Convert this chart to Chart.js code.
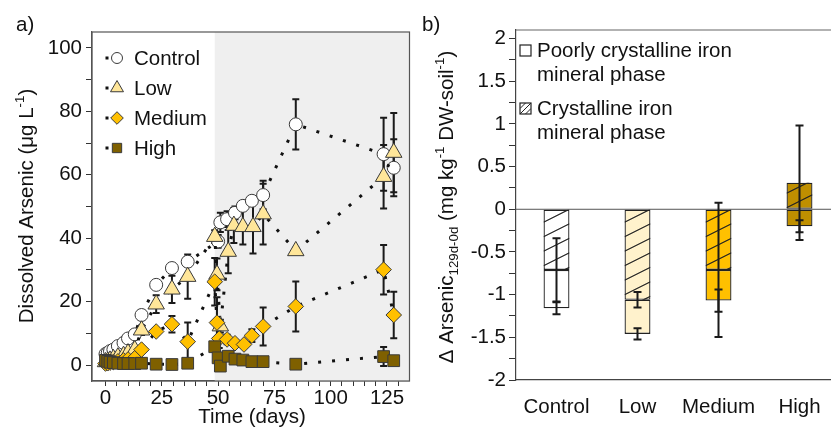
<!DOCTYPE html>
<html>
<head>
<meta charset="utf-8">
<script src="https://cdn.jsdelivr.net/npm/chart.js@4.4.1/dist/chart.umd.min.js"></script>
<style>
  html, body { margin: 0; padding: 0; background: #fff; overflow: hidden; }
  #wrap { position: relative; width: 831px; height: 433px; overflow: hidden; }
  #chartA { position: absolute; left: 0; top: 0; }
  #chartB { position: absolute; left: 420px; top: 0; }
</style>
</head>
<body>
<div id="wrap">
  <canvas id="chartA" width="420" height="433"></canvas>
  <canvas id="chartB" width="420" height="433"></canvas>
</div>
<script>
// ---- panel a: dissolved arsenic over time ----
const controlDays = [0, 1, 2, 3.5, 5.5, 8, 10, 13, 16, 22.5, 29.5, 36.5, 50, 51, 54, 57.5, 61, 65, 70, 84.5, 123.5, 128];
const controlValues = [3.5, 3.9, 4.4, 4.9, 6, 7, 8.4, 9.7, 15.8, 25.3, 30.6, 32.6, 39, 45, 46, 48, 50.2, 51.8, 53.6, 75.9, 66.5, 62.2];
const controlErrors = [0.5, 0.5, 0.5, 0.6, 0.6, 0.7, 0.8, 0.8, 1, 1.2, 1.5, 1.5, 2, 3, 2.5, 2, 1.5, 1.5, 4.5, 7.9, 11.5, 9];

const lowDays = [0, 1, 2, 3.5, 5.5, 8, 10, 13, 16, 22.5, 29.5, 36.5, 48.5, 49.5, 51, 54.5, 57, 61, 65.5, 70, 84.5, 123.5, 128];
const lowValues = [1, 1.2, 1.5, 2, 2.5, 3, 3.8, 4.8, 11, 19.2, 23.9, 27.9, 40.5, 28.6, 12.3, 35.8, 44, 43.6, 43.6, 47.6, 36, 59.4, 67];
const lowErrors = [0.3, 0.3, 0.3, 0.4, 0.4, 0.5, 0.5, 0.6, 1.5, 2.8, 4.3, 7, 2, 5, 2, 6.8, 5.5, 5.6, 8.4, 9.6, 1, 10, 12.5];

const mediumDays = [0, 1, 2, 3.5, 5.5, 8, 10, 13, 16, 22.5, 29.5, 36.5, 48.5, 49.5, 50.5, 54, 57.5, 61.5, 65, 70, 84.5, 123.5, 128];
const mediumValues = [0.5, 0.6, 0.8, 1, 1.2, 1.5, 1.8, 2.2, 4.9, 10.6, 12.9, 7.4, 26.3, 13.4, 8.4, 8.1, 6.9, 6.5, 9.3, 12.2, 18.5, 30.1, 15.8];
const mediumErrors = [0.2, 0.2, 0.2, 0.3, 0.3, 0.3, 0.3, 0.4, 1, 1, 2.6, 6, 7.5, 8, 3, 1.5, 1, 1, 2, 6, 7.9, 7.8, 7.3];

const highDays = [0, 1, 2, 3.5, 5.5, 8, 10, 13, 16, 22.5, 29.5, 36.5, 48.5, 50, 51, 54.5, 57.5, 61, 65, 70, 84.5, 123.5, 128];
const highValues = [1.5, 1.2, 0.9, 0.8, 0.6, 0.5, 0.5, 0.5, 0.6, 0.3, 0.2, 0.6, 5.8, 2.3, -0.3, 2.8, 1.9, 1.6, 1.1, 1.1, 0.3, 2.7, 1.4];
const highErrors = [0.3, 0.3, 0.3, 0.3, 0.3, 0.3, 0.3, 0.3, 0.3, 0.3, 0.3, 0.3, 1.5, 1, 0.5, 0.5, 0.5, 0.4, 0.4, 0.4, 0.4, 3, 0.4];

const shadeStartDay = 48.5;
const xTicksA = [0, 5, 10, 15, 20, 25, 30, 35, 40, 45, 50, 55, 60, 65, 70, 75, 80, 85, 90, 95, 100, 105, 110, 115, 120, 125, 130];
const yTicksA = [0, 10, 20, 30, 40, 50, 60, 70, 80, 90, 100];

// ---- panel b: change in arsenic per iron mineral phase ----
const phaseCategories = ['Control', 'Low', 'Medium', 'High'];
const crystallineValues = [-0.71, -1.06, -0.71, 0.31];
const crystallineErrors = [0.37, 0.09, 0.785, 0.67];
const poorlyValues = [-0.45, -0.40, -0.36, -0.20];
const poorlyErrors = [0.07, 0.065, 0.13, 0.07];
const yTicksB = [-2, -1.75, -1.5, -1.25, -1, -0.75, -0.5, -0.25, 0, 0.25, 0.5, 0.75, 1, 1.25, 1.5, 1.75, 2];

const FONT = '"Liberation Sans", Arial, Helvetica, sans-serif';
const FS = 20.5;
const INK = '#111';
Chart.defaults.font.family = FONT;
Chart.defaults.font.size = FS;
Chart.defaults.color = INK;

const seriesA = [
  { label: 'Control', days: controlDays, values: controlValues, errors: controlErrors, style: 'circle', radius: 6.5, legendRadius: 5.5, fill: '#FFFFFF' },
  { label: 'Low', days: lowDays, values: lowValues, errors: lowErrors, style: 'triangle', radius: 9.5, legendRadius: 7.5, fill: '#FFE699' },
  { label: 'Medium', days: mediumDays, values: mediumValues, errors: mediumErrors, style: 'rectRot', radius: 7.8, legendRadius: 6.3, fill: '#FFC000' },
  { label: 'High', days: highDays, values: highValues, errors: highErrors, style: 'rect', radius: 8.3, legendRadius: 6.6, fill: '#7F6000' }
];
const barColors = ['#FFFFFF', '#FFF2CC', '#FFC000', '#BF8F00'];

// rotated / plain text with sub- and superscript runs
function drawRich(ctx, runs, cx, cy, rotate) {
  ctx.save();
  ctx.translate(cx, cy);
  if (rotate) ctx.rotate(-Math.PI / 2);
  ctx.fillStyle = INK;
  ctx.textBaseline = 'alphabetic';
  ctx.textAlign = 'left';
  const fontFor = k => `${k ? FS * 0.65 : FS}px ${FONT}`;
  let total = 0;
  runs.forEach(([t, k]) => { ctx.font = fontFor(k); total += ctx.measureText(t).width; });
  let x = -total / 2;
  runs.forEach(([t, k]) => {
    ctx.font = fontFor(k);
    const dy = k === 'sup' ? -FS * 0.42 : k === 'sub' ? FS * 0.22 : 0;
    ctx.fillText(t, x, dy);
    x += ctx.measureText(t).width;
  });
  ctx.restore();
}

function errorBar(ctx, x, y, e, cap) {
  ctx.beginPath();
  ctx.moveTo(x, y - e); ctx.lineTo(x, y + e);
  ctx.moveTo(x - cap, y - e); ctx.lineTo(x + cap, y - e);
  ctx.moveTo(x - cap, y + e); ctx.lineTo(x + cap, y + e);
  ctx.stroke();
}

const panelAPlugin = {
  id: 'panelA',
  beforeDatasetsDraw(chart) {
    const { ctx, chartArea: a, scales: { x, y } } = chart;
    ctx.save();
    const sx = x.getPixelForValue(shadeStartDay);
    ctx.fillStyle = '#EFEFEF';
    ctx.fillRect(sx, a.top, a.right - sx, a.bottom - a.top);
    ctx.strokeStyle = '#1a1a1a';
    ctx.lineWidth = 2;
    chart.data.datasets.forEach((ds, i) => {
      chart.getDatasetMeta(i).data.forEach((pt, j) => {
        const e = Math.abs(y.getPixelForValue(ds.errors[j]) - y.getPixelForValue(0));
        if (e > 1.5) errorBar(ctx, pt.x, pt.y, e, 3.5);
      });
    });
    ctx.restore();
  },
  afterDraw(chart) {
    const { ctx, chartArea: a } = chart;
    ctx.save();
    ctx.strokeStyle = '#555';
    ctx.lineWidth = 1.2;
    ctx.strokeRect(a.left, a.top, a.right - a.left, a.bottom - a.top);
    // legend
    seriesA.forEach((s, i) => {
      const cy = 58 + i * 30;
      ctx.fillStyle = INK;
      ctx.fillRect(105.5, cy - 1.5, 3, 3);
      ctx.fillStyle = s.fill;
      ctx.strokeStyle = '#3a3a3a';
      ctx.lineWidth = 1;
      Chart.helpers.drawPoint(ctx, { pointStyle: s.style, radius: s.legendRadius, rotation: 0, borderWidth: 1 }, 117, cy);
      ctx.fillStyle = INK;
      ctx.font = `${FS}px ${FONT}`;
      ctx.textBaseline = 'alphabetic';
      ctx.textAlign = 'left';
      ctx.fillText(s.label, 134, cy + 7);
    });
    ctx.font = `${FS}px ${FONT}`;
    ctx.fillText('a)', 16, 31);
    ctx.restore();
    drawRich(ctx, [['Dissolved Arsenic (μg L', ''], ['-1', 'sup'], [')', '']], 33, 206, true);
    drawRich(ctx, [['Time (days)', '']], 252, 423, false);
  }
};

new Chart(document.getElementById('chartA'), {
  type: 'line',
  data: {
    datasets: seriesA.map((s, i) => ({
      label: s.label,
      data: s.days.map((d, j) => ({ x: d, y: s.values[j] })),
      errors: s.errors,
      order: seriesA.length - i,
      borderColor: INK,
      borderWidth: 3,
      borderDash: [3, 11],
      borderCapStyle: 'butt',
      tension: 0,
      fill: false,
      pointStyle: s.style,
      pointRadius: s.radius,
      pointBackgroundColor: s.fill,
      pointBorderColor: '#3a3a3a',
      pointBorderWidth: 1
    }))
  },
  options: {
    responsive: false,
    animation: false,
    layout: { padding: { left: 0, top: 32, right: 8, bottom: 0 } },
    plugins: { legend: { display: false }, tooltip: { enabled: false } },
    scales: {
      x: {
        type: 'linear', min: -6, max: 135,
        afterBuildTicks: s => { s.ticks = xTicksA.map(v => ({ value: v })); },
        afterFit: s => { s.height = 52; },
        grid: { drawOnChartArea: false, tickLength: 5, color: '#333' },
        border: { color: '#555', width: 1.2 },
        ticks: { autoSkip: false, maxRotation: 0, padding: 0, color: INK, callback: v => (v % 25 === 0 ? String(v) : '') }
      },
      y: {
        type: 'linear', min: -5, max: 105,
        afterBuildTicks: s => { s.ticks = yTicksA.map(v => ({ value: v })); },
        afterFit: s => { s.width = 92; },
        grid: { drawOnChartArea: false, tickLength: 6, color: '#333' },
        border: { color: '#555', width: 1.2 },
        ticks: { autoSkip: false, padding: 4, color: INK, callback: v => (v % 20 === 0 ? String(v) : '') }
      }
    }
  },
  plugins: [panelAPlugin]
});

// ---- panel b ----
const hatchGap = 14.5;
const hatchSlope = 0.5;

function hatchRect(ctx, left, top, w, h, y0) {
  ctx.save();
  ctx.beginPath();
  ctx.rect(left, top, w, h);
  ctx.clip();
  ctx.beginPath();
  for (let k = -30; k <= 30; k++) {
    const yr = y0 + k * hatchGap;
    ctx.moveTo(left + w, yr);
    ctx.lineTo(left, yr + w * hatchSlope);
  }
  ctx.strokeStyle = '#222';
  ctx.lineWidth = 1.3;
  ctx.stroke();
  ctx.restore();
}

const panelBPlugin = {
  id: 'panelB',
  beforeDatasetsDraw(chart) {
    const { ctx, chartArea: a, scales: { y } } = chart;
    const y0 = y.getPixelForValue(0);
    ctx.save();
    ctx.strokeStyle = '#555';
    ctx.lineWidth = 1;
    ctx.beginPath();
    ctx.moveTo(a.left, y0); ctx.lineTo(a.right, y0);
    ctx.stroke();
    ctx.restore();
  },
  afterDatasetsDraw(chart) {
    const { ctx, scales: { y } } = chart;
    const y0 = y.getPixelForValue(0);
    chart.getDatasetMeta(0).data.forEach(el => {
      const p = el.getProps(['x', 'y', 'base', 'width'], true);
      const top = Math.min(p.y, p.base);
      hatchRect(ctx, p.x - p.width / 2, top, p.width, Math.abs(p.base - p.y), y0);
    });
    ctx.save();
    ctx.strokeStyle = '#1a1a1a';
    ctx.lineWidth = 2;
    chart.data.datasets.forEach((ds, i) => {
      chart.getDatasetMeta(i).data.forEach((el, j) => {
        const e = Math.abs(y.getPixelForValue(ds.errors[j]) - y0);
        errorBar(ctx, el.x, el.y, e, 4);
      });
    });
    ctx.restore();
  },
  afterDraw(chart) {
    const { ctx, chartArea: a } = chart;
    ctx.save();
    ctx.strokeStyle = '#666';
    ctx.lineWidth = 1.2;
    ctx.beginPath();
    ctx.moveTo(a.left, a.top); ctx.lineTo(a.right, a.top);
    ctx.stroke();
    // legend
    ctx.strokeStyle = '#222';
    ctx.lineWidth = 1.2;
    ctx.fillStyle = '#fff';
    ctx.fillRect(100, 45, 11, 11);
    ctx.strokeRect(100, 45, 11, 11);
    ctx.fillRect(100, 103, 11, 11);
    ctx.save();
    ctx.beginPath(); ctx.rect(100, 103, 11, 11); ctx.clip();
    ctx.beginPath();
    for (let k = -2; k <= 2; k++) {
      ctx.moveTo(111, 103 + k * 5.5); ctx.lineTo(100, 103 + k * 5.5 + 11);
    }
    ctx.lineWidth = 1; ctx.stroke();
    ctx.restore();
    ctx.strokeRect(100, 103, 11, 11);
    ctx.fillStyle = INK;
    ctx.font = `${FS}px ${FONT}`;
    ctx.textAlign = 'left';
    ctx.textBaseline = 'alphabetic';
    ctx.fillText('Poorly crystalline iron', 117, 57);
    ctx.fillText('mineral phase', 117, 81);
    ctx.fillText('Crystalline iron', 117, 115);
    ctx.fillText('mineral phase', 117, 139);
    ctx.fillText('b)', 2, 31);
    ctx.restore();
    drawRich(ctx, [['Δ Arsenic', ''], ['129d-0d', 'sub'], [' (mg kg', ''], ['-1', 'sup'], [' DW-soil', ''], ['-1', 'sup'], [')', '']], 33, 207, true);
  }
};

new Chart(document.getElementById('chartB'), {
  type: 'bar',
  data: {
    labels: phaseCategories,
    datasets: [
      { label: 'Crystalline iron mineral phase', data: crystallineValues, errors: crystallineErrors, backgroundColor: barColors },
      { label: 'Poorly crystalline iron mineral phase', data: poorlyValues, errors: poorlyErrors, backgroundColor: barColors }
    ]
  },
  options: {
    responsive: false,
    animation: false,
    layout: { padding: { left: 0, top: 30, right: 0, bottom: 0 } },
    plugins: { legend: { display: false }, tooltip: { enabled: false } },
    datasets: { bar: { barPercentage: 0.32, categoryPercentage: 1, borderColor: '#222', borderWidth: 1.3, borderSkipped: false } },
    scales: {
      x: {
        stacked: true,
        afterFit: s => { s.height = 53; },
        grid: { display: false },
        border: { display: true, color: '#444', width: 1.2 },
        ticks: { padding: 7, color: INK, maxRotation: 0 }
      },
      y: {
        stacked: true, min: -2, max: 2.1,
        afterBuildTicks: s => { s.ticks = yTicksB.map(v => ({ value: v })); },
        afterFit: s => { s.width = 96; },
        grid: { drawOnChartArea: false, tickLength: 7, color: '#333' },
        border: { color: '#444', width: 1.2 },
        ticks: { autoSkip: false, padding: 3, color: INK, callback: v => (Number.isInteger(v * 2) ? String(v) : '') }
      }
    }
  },
  plugins: [panelBPlugin]
});
</script>
</body>
</html>
